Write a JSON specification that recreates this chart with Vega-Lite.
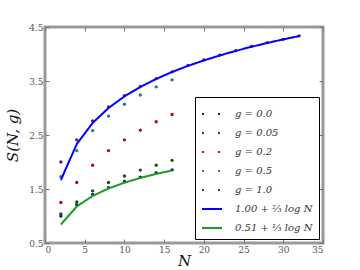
{
  "$schema": "https://vega.github.io/schema/vega-lite/v6.json",
  "autosize": "none",
  "width": 278,
  "height": 216,
  "padding": {"left": 45, "top": 27, "right": 37, "bottom": 27},
  "background": "white",
  "config": {
    "view": {"stroke": "#9a9a9a", "strokeWidth": 3},
    "axis": {
      "labelFont": "DejaVu Serif",
      "labelFontSize": 9,
      "labelColor": "#555555",
      "tickColor": "#777777",
      "tickSize": -4,
      "domain": false,
      "grid": false,
      "titleFont": "DejaVu Serif",
      "titleFontStyle": "italic",
      "titleFontWeight": "normal",
      "titleFontSize": 15,
      "titleColor": "#111111"
    }
  },
  "datasets": {
    "pts": [
      {"N": 2, "S": 1.0, "series": "g = 0.0"},
      {"N": 4, "S": 1.21, "series": "g = 0.0"},
      {"N": 6, "S": 1.40, "series": "g = 0.0"},
      {"N": 8, "S": 1.526, "series": "g = 0.0"},
      {"N": 10, "S": 1.64, "series": "g = 0.0"},
      {"N": 12, "S": 1.72, "series": "g = 0.0"},
      {"N": 14, "S": 1.80, "series": "g = 0.0"},
      {"N": 16, "S": 1.854, "series": "g = 0.0"},
      {"N": 2, "S": 1.04, "series": "g = 0.05"},
      {"N": 4, "S": 1.26, "series": "g = 0.05"},
      {"N": 6, "S": 1.465, "series": "g = 0.05"},
      {"N": 8, "S": 1.62, "series": "g = 0.05"},
      {"N": 10, "S": 1.74, "series": "g = 0.05"},
      {"N": 12, "S": 1.85, "series": "g = 0.05"},
      {"N": 14, "S": 1.94, "series": "g = 0.05"},
      {"N": 16, "S": 2.03, "series": "g = 0.05"},
      {"N": 2, "S": 1.25, "series": "g = 0.2"},
      {"N": 4, "S": 1.62, "series": "g = 0.2"},
      {"N": 6, "S": 1.94, "series": "g = 0.2"},
      {"N": 8, "S": 2.21, "series": "g = 0.2"},
      {"N": 10, "S": 2.41, "series": "g = 0.2"},
      {"N": 12, "S": 2.59, "series": "g = 0.2"},
      {"N": 14, "S": 2.745, "series": "g = 0.2"},
      {"N": 16, "S": 2.88, "series": "g = 0.2"},
      {"N": 2, "S": 1.73, "series": "g = 0.5"},
      {"N": 4, "S": 2.21, "series": "g = 0.5"},
      {"N": 6, "S": 2.58, "series": "g = 0.5"},
      {"N": 8, "S": 2.85, "series": "g = 0.5"},
      {"N": 10, "S": 3.07, "series": "g = 0.5"},
      {"N": 12, "S": 3.24, "series": "g = 0.5"},
      {"N": 14, "S": 3.39, "series": "g = 0.5"},
      {"N": 16, "S": 3.52, "series": "g = 0.5"},
      {"N": 2, "S": 2.0, "series": "g = 1.0"},
      {"N": 4, "S": 2.41, "series": "g = 1.0"},
      {"N": 6, "S": 2.76, "series": "g = 1.0"},
      {"N": 8, "S": 3.02, "series": "g = 1.0"},
      {"N": 10, "S": 3.23, "series": "g = 1.0"},
      {"N": 12, "S": 3.40, "series": "g = 1.0"},
      {"N": 14, "S": 3.545, "series": "g = 1.0"},
      {"N": 16, "S": 3.67, "series": "g = 1.0"},
      {"N": 18, "S": 3.79, "series": "g = 1.0"},
      {"N": 20, "S": 3.89, "series": "g = 1.0"},
      {"N": 22, "S": 3.98, "series": "g = 1.0"},
      {"N": 24, "S": 4.06, "series": "g = 1.0"},
      {"N": 26, "S": 4.14, "series": "g = 1.0"},
      {"N": 28, "S": 4.21, "series": "g = 1.0"},
      {"N": 30, "S": 4.27, "series": "g = 1.0"},
      {"N": 32, "S": 4.335, "series": "g = 1.0"}
    ],
    "lines": [
      {"N": 2, "S": 1.667, "series": "1.00 + ⅔ log N"},
      {"N": 4, "S": 2.333, "series": "1.00 + ⅔ log N"},
      {"N": 6, "S": 2.723, "series": "1.00 + ⅔ log N"},
      {"N": 8, "S": 3.0, "series": "1.00 + ⅔ log N"},
      {"N": 10, "S": 3.215, "series": "1.00 + ⅔ log N"},
      {"N": 12, "S": 3.390, "series": "1.00 + ⅔ log N"},
      {"N": 14, "S": 3.538, "series": "1.00 + ⅔ log N"},
      {"N": 16, "S": 3.667, "series": "1.00 + ⅔ log N"},
      {"N": 18, "S": 3.780, "series": "1.00 + ⅔ log N"},
      {"N": 20, "S": 3.881, "series": "1.00 + ⅔ log N"},
      {"N": 22, "S": 3.973, "series": "1.00 + ⅔ log N"},
      {"N": 24, "S": 4.057, "series": "1.00 + ⅔ log N"},
      {"N": 26, "S": 4.134, "series": "1.00 + ⅔ log N"},
      {"N": 28, "S": 4.205, "series": "1.00 + ⅔ log N"},
      {"N": 30, "S": 4.271, "series": "1.00 + ⅔ log N"},
      {"N": 32, "S": 4.333, "series": "1.00 + ⅔ log N"},
      {"N": 2, "S": 0.843, "series": "0.51 + ⅓ log N"},
      {"N": 4, "S": 1.177, "series": "0.51 + ⅓ log N"},
      {"N": 6, "S": 1.372, "series": "0.51 + ⅓ log N"},
      {"N": 8, "S": 1.51, "series": "0.51 + ⅓ log N"},
      {"N": 10, "S": 1.617, "series": "0.51 + ⅓ log N"},
      {"N": 12, "S": 1.705, "series": "0.51 + ⅓ log N"},
      {"N": 14, "S": 1.779, "series": "0.51 + ⅓ log N"},
      {"N": 16, "S": 1.843, "series": "0.51 + ⅓ log N"}
    ]
  },
  "resolve": {"axis": {"x": "independent", "y": "independent"}},
  "layer": [
    {
      "data": {"name": "pts"},
      "mark": {"type": "point", "filled": false, "strokeWidth": 1.6, "size": 3, "opacity": 1},
      "encoding": {
        "x": {"field": "N", "type": "quantitative", "scale": {"domain": [0, 35], "nice": false},
              "axis": {"orient": "bottom", "values": [0,5,10,15,20,25,30,35], "title": "N", "titlePadding": -1, "labelPadding": 6}},
        "y": {"field": "S", "type": "quantitative", "scale": {"domain": [0.5, 4.5], "nice": false, "zero": false},
              "axis": {"orient": "left", "values": [0.5,1.5,2.5,3.5,4.5], "format": ".1f", "title": "S(N, g)", "titlePadding": 8, "labelPadding": 6}},
        "color": {
          "field": "series", "type": "nominal",
          "scale": {
            "domain": ["g = 0.0", "g = 0.05", "g = 0.2", "g = 0.5", "g = 1.0", "1.00 + ⅔ log N", "0.51 + ⅓ log N"],
            "range": ["#15157a", "#0f5a14", "#b01010", "#1f7f7f", "#6e1a5e", "#0000ff", "#1e9e1e"]
          },
          "legend": {
            "title": null,
            "orient": "none",
            "legendX": 150,
            "legendY": 70,
            "strokeColor": "#000000",
            "fillColor": "#ffffff",
            "padding": 6,
            "rowPadding": 3,
            "labelFont": "DejaVu Serif",
            "labelFontStyle": "italic",
            "labelFontSize": 10,
            "labelColor": "#333333",
            "labelOffset": 12,
            "symbolType": "stroke",
            "symbolSize": 400,
            "symbolStrokeWidth": 2
          }
        }
      }
    },
    {
      "data": {"name": "lines"},
      "mark": {"type": "line", "strokeWidth": 2},
      "encoding": {
        "x": {"field": "N", "type": "quantitative", "axis": {"orient": "top", "values": [0,5,10,15,20,25,30,35], "labels": false, "title": null}},
        "y": {"field": "S", "type": "quantitative", "axis": {"orient": "right", "values": [0.5,1.5,2.5,3.5,4.5], "labels": false, "title": null}},
        "color": {"field": "series", "type": "nominal"},
        "strokeDash": {
          "field": "series", "type": "nominal",
          "scale": {
            "domain": ["g = 0.0", "g = 0.05", "g = 0.2", "g = 0.5", "g = 1.0", "1.00 + ⅔ log N", "0.51 + ⅓ log N"],
            "range": [[2, 14], [2, 14], [2, 14], [2, 14], [2, 14], [1, 0], [1, 0]]
          },
          "legend": {"title": null}
        }
      }
    }
  ]
}
